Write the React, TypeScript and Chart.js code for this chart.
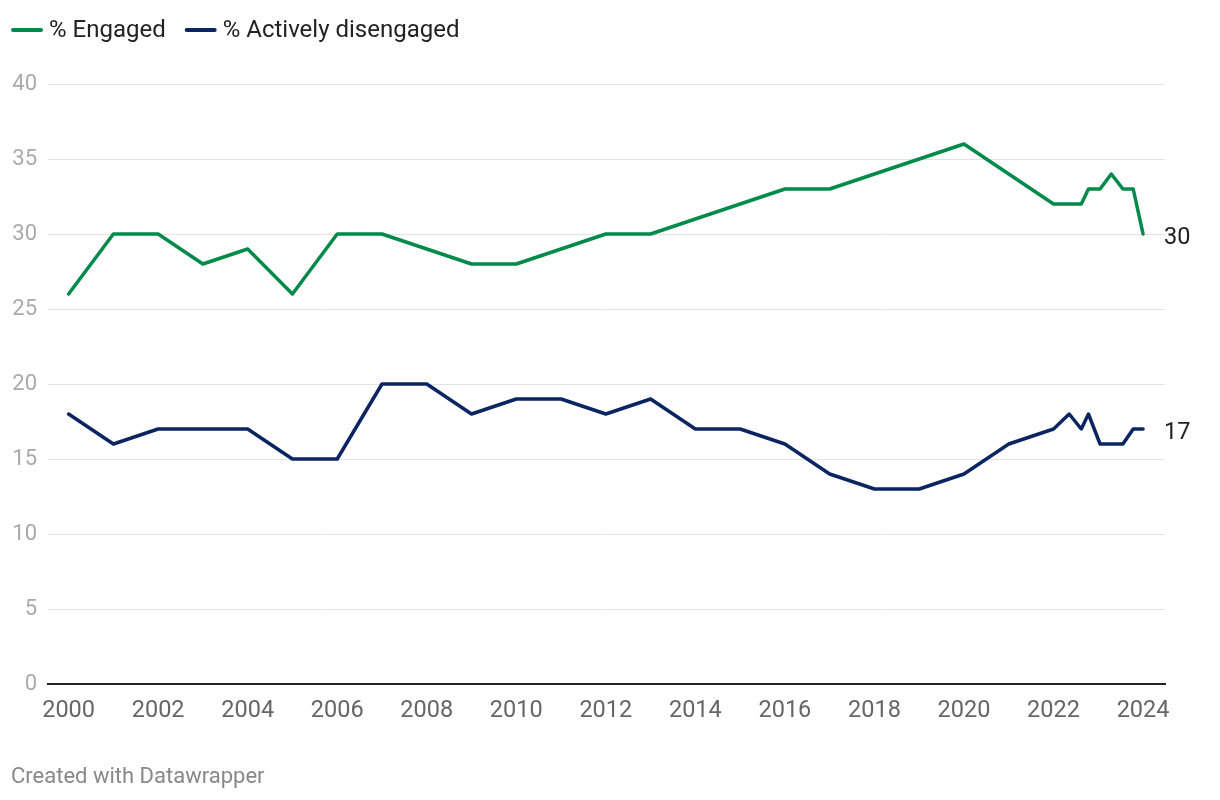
import React, { useEffect, useRef } from "react";
import { Chart, registerables } from "chart.js";

Chart.register(...registerables);

const years: number[] = [
  2000, 2001, 2002, 2003, 2004, 2005, 2006, 2007, 2008, 2009, 2010, 2011,
  2012, 2013, 2014, 2015, 2016, 2017, 2018, 2019, 2020, 2021,
  2022, 2022.35, 2022.62, 2022.78, 2023.04, 2023.29, 2023.55, 2023.78, 2024,
];
const engaged: number[] = [
  26, 30, 30, 28, 29, 26, 30, 30, 29, 28, 28, 29,
  30, 30, 31, 32, 33, 33, 34, 35, 36, 34,
  32, 32, 32, 33, 33, 34, 33, 33, 30,
];
const disengaged: number[] = [
  18, 16, 17, 17, 17, 15, 15, 20, 20, 18, 19, 19,
  18, 19, 17, 17, 16, 14, 13, 13, 14, 16,
  17, 18, 17, 18, 16, 16, 16, 17, 17,
];
const xTicks: number[] = [2000, 2002, 2004, 2006, 2008, 2010, 2012, 2014, 2016, 2018, 2020, 2022, 2024];
const seriesNames: string[] = ["% Engaged", "% Actively disengaged"];
const footer = "Created with Datawrapper";

const GREEN = "#008a4a";
const NAVY = "#0b2462";
const FONT = "Roboto, 'Noto Sans', sans-serif";

export default function App() {
  const ref = useRef<HTMLCanvasElement | null>(null);

  useEffect(() => {
    document.body.style.margin = "0";
    const canvas = ref.current;
    if (!canvas) return;

    const overlay = {
      id: "overlay",
      afterDraw(chart: any) {
        const ctx = chart.ctx as CanvasRenderingContext2D;
        ctx.save();
        // legend
        ctx.font = `24px ${FONT}`;
        ctx.textBaseline = "middle";
        let x = 11;
        const ly = 30;
        const colors = [GREEN, NAVY];
        seriesNames.forEach((name, i) => {
          ctx.strokeStyle = colors[i];
          ctx.lineWidth = 4;
          ctx.lineCap = "round";
          ctx.beginPath();
          ctx.moveTo(x + 2, ly);
          ctx.lineTo(x + 30, ly);
          ctx.stroke();
          ctx.fillStyle = "#222";
          ctx.fillText(name, x + 38, ly + 1);
          x += 38 + ctx.measureText(name).width + 19;
        });
        // end labels
        const xs = chart.scales.x;
        const ys = chart.scales.y;
        const last = years.length - 1;
        ctx.font = `23.5px ${FONT}`;
        ctx.fillStyle = "#222";
        ctx.textAlign = "left";
        ctx.fillText(String(engaged[last]), xs.getPixelForValue(years[last]) + 21, ys.getPixelForValue(engaged[last]) + 4);
        ctx.fillText(String(disengaged[last]), xs.getPixelForValue(years[last]) + 21, ys.getPixelForValue(disengaged[last]) + 4);
        // footer
        ctx.font = `22px ${FONT}`;
        ctx.fillStyle = "#888";
        ctx.fillText(footer, 11, 777);
        ctx.restore();
      },
    };

    const chart = new Chart(canvas, {
      type: "line",
      data: {
        datasets: [
          {
            label: seriesNames[0],
            data: years.map((y, i) => ({ x: y, y: engaged[i] })),
            borderColor: GREEN,
            borderWidth: 3.5,
            pointRadius: 0,
            tension: 0,
            borderJoinStyle: "round",
            borderCapStyle: "round",
          },
          {
            label: seriesNames[1],
            data: years.map((y, i) => ({ x: y, y: disengaged[i] })),
            borderColor: NAVY,
            borderWidth: 3.5,
            pointRadius: 0,
            tension: 0,
            borderJoinStyle: "round",
            borderCapStyle: "round",
          },
        ],
      },
      options: {
        animation: false,
        responsive: false,
        devicePixelRatio: 1,
        layout: { padding: { top: 84, right: 55, bottom: 76, left: 0 } },
        plugins: {
          legend: { display: false },
          tooltip: { enabled: false },
        },
        scales: {
          x: {
            type: "linear",
            min: 1999.54,
            max: 2024.49,
            afterBuildTicks: (axis: any) => {
              axis.ticks = xTicks.map((v) => ({ value: v }));
            },
            afterFit: (axis: any) => {
              axis.height = 40;
            },
            grid: { display: false, drawTicks: false },
            border: { display: true, color: "#222", width: 2 },
            ticks: {
              color: "#666",
              font: { family: FONT, size: 23.5 },
              padding: 13,
              maxRotation: 0,
              autoSkip: false,
              callback: (v: any) => String(v),
            },
          },
          y: {
            min: 0,
            max: 40,
            afterFit: (axis: any) => {
              axis.width = 48;
            },
            grid: { color: "#e2e2e2", lineWidth: 1, drawTicks: false },
            border: { display: false },
            ticks: {
              stepSize: 5,
              color: "#aaa",
              font: { family: FONT, size: 22 },
              padding: 11,
            },
          },
        },
      },
      plugins: [overlay],
    } as any);

    return () => chart.destroy();
  }, []);

  return (
    <div style={{ width: 1220, height: 800 }}>
      <canvas ref={ref} width={1220} height={800} style={{ display: "block" }} />
    </div>
  );
}
